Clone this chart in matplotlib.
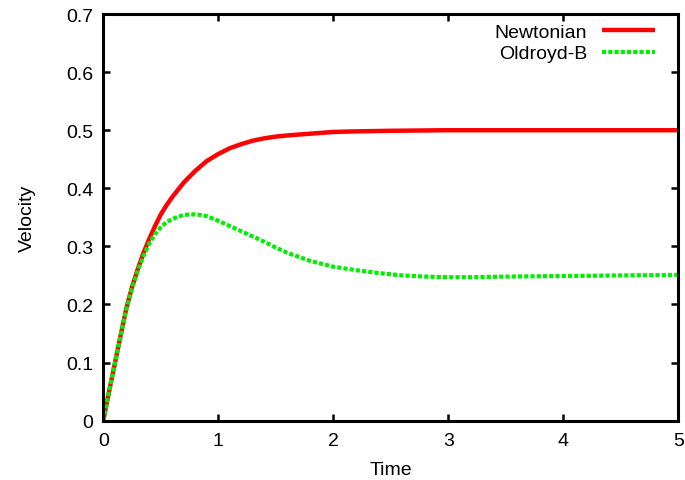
import matplotlib
matplotlib.use("Agg")
import matplotlib.pyplot as plt

t_newt = [0.0, 0.05, 0.1, 0.15, 0.2, 0.25, 0.3, 0.35, 0.4, 0.45, 0.5, 0.55, 0.6, 0.7, 0.8, 0.9,
          1.0, 1.1, 1.2, 1.3, 1.4, 1.5, 1.6, 1.8, 2.0, 2.2, 2.5, 3.0, 3.5, 4.0, 4.5, 5.0]
v_newt = [0.0, 0.05, 0.098, 0.146, 0.193, 0.23, 0.261, 0.289, 0.313, 0.335, 0.355, 0.371, 0.385, 0.41, 0.43, 0.447,
          0.459, 0.469, 0.476, 0.482, 0.486, 0.489, 0.491, 0.494, 0.497, 0.498, 0.499, 0.5, 0.5, 0.5, 0.5, 0.5]

t_old = [0.0, 0.05, 0.1, 0.15, 0.2, 0.25, 0.3, 0.35, 0.4, 0.45, 0.5, 0.55, 0.6, 0.65, 0.7, 0.75, 0.8, 0.85, 0.9,
         1.0, 1.1, 1.2, 1.3, 1.4, 1.5, 1.6, 1.7, 1.8, 1.9, 2.0, 2.2, 2.4, 2.6, 2.8, 3.0, 3.2, 3.5, 4.0, 4.5, 5.0]
v_old = [0.0, 0.05, 0.098, 0.146, 0.192, 0.228, 0.258, 0.284, 0.305, 0.321, 0.333, 0.342, 0.347, 0.351, 0.354, 0.355, 0.355, 0.354, 0.352,
         0.344, 0.335, 0.326, 0.317, 0.308, 0.298, 0.289, 0.282, 0.275, 0.27, 0.265, 0.259, 0.254, 0.25, 0.248, 0.247, 0.247, 0.248, 0.249, 0.25, 0.251]

x_ticks = [0, 1, 2, 3, 4, 5]
y_ticks = [0, 0.1, 0.2, 0.3, 0.4, 0.5, 0.6, 0.7]
y_labels = ["0", "0.1", "0.2", "0.3", "0.4", "0.5", "0.6", "0.7"]

plt.rcParams['font.family'] = ['Liberation Sans', 'DejaVu Sans']
fig = plt.figure(figsize=(6.85, 4.81), dpi=100)
ax = fig.add_axes([0.1508, 0.1233, 0.9902 - 0.1508, 0.9688 - 0.1233])

ax.plot(t_newt, v_newt, color='#ff0000', lw=3.2, label='Newtonian', solid_capstyle='butt', solid_joinstyle='round')
ax.plot(t_old, v_old, color='#00ee00', lw=3.0, linestyle=(0, (1.0, 0.5)), label='Oldroyd-B', dash_capstyle='butt')

ax.set_xlim(0, 5)
ax.set_ylim(0, 0.7)
ax.set_xticks(x_ticks)
ax.set_xticklabels([str(v) for v in x_ticks])
ax.set_yticks(y_ticks)
ax.set_yticklabels(y_labels)
ax.tick_params(direction='in', length=5, width=1.8, top=True, right=True, labelsize=14, pad=7, colors='black')
ax.tick_params(axis='x', pad=8)
for s in ax.spines.values():
    s.set_linewidth(2.2)
ax.set_xlabel('Time', fontsize=14, labelpad=9)
ax.set_ylabel('Velocity', fontsize=14, labelpad=22)

leg = ax.legend(loc='upper right', frameon=False, markerfirst=False, fontsize=14,
                handlelength=2.75, handletextpad=0.75, labelspacing=0.22,
                borderaxespad=0.0, borderpad=0.0, bbox_to_anchor=(0.9595, 0.978))

fig.savefig('out.png', dpi=100)
